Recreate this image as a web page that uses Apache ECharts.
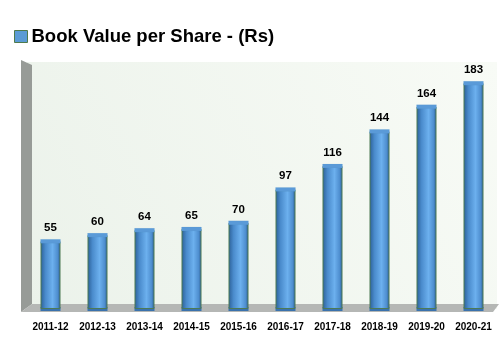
<!DOCTYPE html>
<html><head><meta charset="utf-8">
<script src="https://cdn.jsdelivr.net/npm/echarts@6/dist/echarts.min.js"></script>
<style>html,body{margin:0;padding:0;background:#fff}#c{width:500px;height:360px}</style>
</head><body><div id="c"></div>
<script>
const categories = ['2011-12','2012-13','2013-14','2014-15','2015-16','2016-17','2017-18','2018-19','2019-20','2020-21'];
const bookValue = [55, 60, 64, 65, 70, 97, 116, 144, 164, 183];
const seriesName = 'Book Value per Share - (Rs)';

const chart = echarts.init(document.getElementById('c'), null, {renderer:'canvas'});
const barGrad = new echarts.graphic.LinearGradient(0,0,1,0,[
  {offset:0,color:'#2b5f96'},{offset:0.25,color:'#4a8bcc'},{offset:0.6,color:'#6cb0ee'},{offset:0.85,color:'#4f8fd0'},{offset:1,color:'#2d5f93'}
]);
chart.setOption({
  animation:false,
  backgroundColor:'#fff',
  legend:{
    left:9, top:22, itemWidth:13, itemHeight:12, itemGap:10,
    data:[seriesName],
    textStyle:{fontFamily:'Liberation Sans, Arial', fontWeight:'bold', fontSize:18.5, color:'#000', padding:[0,0,0,-1]},
    icon:'rect',
    itemStyle:{color:'#5b9bd5', borderColor:'#4f7a4c', borderWidth:1}
  },
  graphic:[
    {type:'polygon', shape:{points:[[21,60],[32,65],[32,304],[21,312]]}, style:{fill:'#979b97'}, z:0},
    {type:'polygon', shape:{points:[[32,304],[499,304],[493,312],[21,312]]}, style:{fill:'#b5b7b5'}, z:0}
  ],
  grid:{left:27, right:3, top:62, bottom:51, show:true, borderWidth:0,
    backgroundColor:new echarts.graphic.LinearGradient(1,0,0,1,[{offset:0,color:'#f8fbf6'},{offset:1,color:'#ebf2ea'}])},
  xAxis:{type:'category', data:categories,
    axisLine:{show:false}, axisTick:{show:false},
    axisLabel:{fontFamily:'Liberation Sans, Arial', fontWeight:'bold', fontSize:10, color:'#000', margin:13, interval:0}},
  yAxis:{type:'value', min:0, max:200, show:false, splitLine:{show:false}},
  series:[
    {name:seriesName, type:'bar', data:bookValue, barWidth:20, z:3,
      itemStyle:{color:barGrad, borderColor:'#4d7a55', borderWidth:1},
      label:{show:true, position:'top', distance:7, fontFamily:'Liberation Sans, Arial', fontWeight:'bold', fontSize:11.5, color:'#000'}},
    {name:'cap', type:'pictorialBar', data:bookValue, symbol:'ellipse', symbolSize:[20,4], symbolPosition:'end', symbolOffset:[0,'-50%'], z:4,
      itemStyle:{color:'#5a9ad8', borderColor:'#5b8a5e', borderWidth:1}, tooltip:{show:false}},
    {name:'base', type:'pictorialBar', data:bookValue, symbol:'ellipse', symbolSize:[20,4], symbolPosition:'start', symbolOffset:[0,'50%'], z:2,
      itemStyle:{color:'#3a72ad'}}
  ]
});
</script></body></html>
